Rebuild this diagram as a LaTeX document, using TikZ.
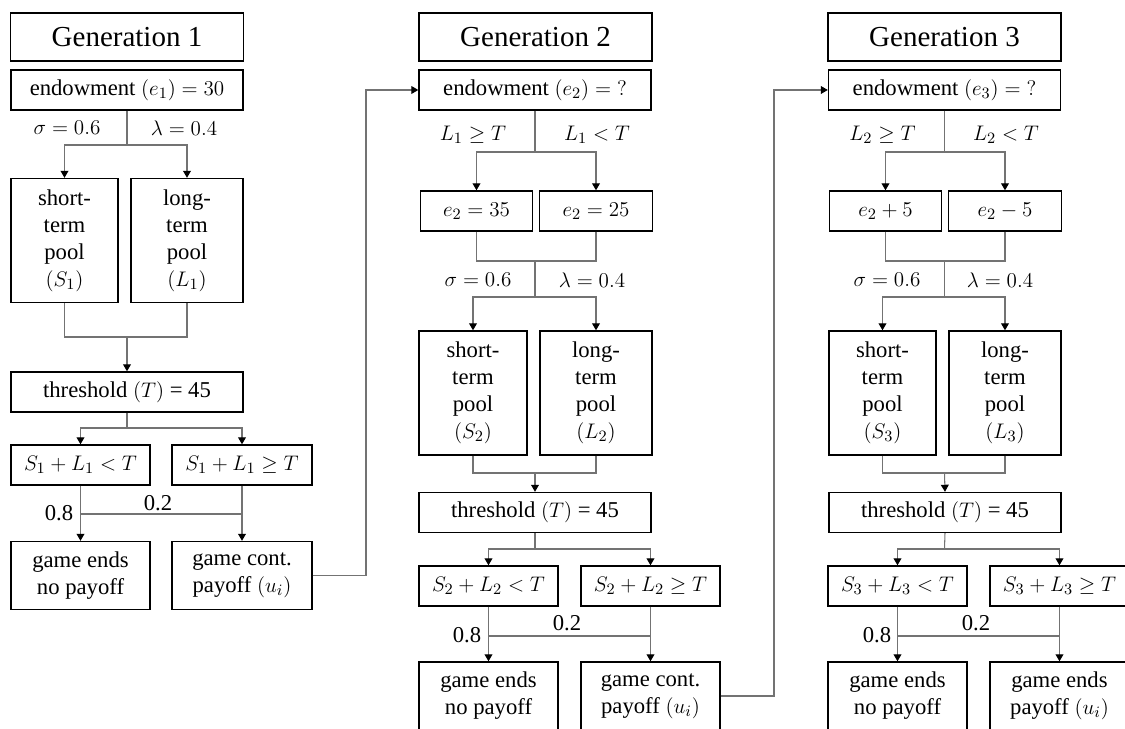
\documentclass[tikz,border=0pt]{standalone}
\usepackage{fontspec}
\newfontfamily\timesfont{Liberation Serif}
\usepackage{tikz}
\usetikzlibrary{arrows.meta}
\newcommand\bodyfont{\timesfont\fontsize{12.9pt}{15.4pt}\selectfont}
\newcommand\genfont{\timesfont\fontsize{16.5pt}{19pt}\selectfont}
\tikzset{
	box/.style={draw, line width=0.8pt, inner sep=0pt, align=center, font=\bodyfont},
	genbox/.style={box, minimum width=46.6mm, minimum height=9.6mm, font=\genfont},
	widebox/.style={box, minimum width=46.4mm, minimum height=8mm},
	ebox/.style={box, minimum width=22.5mm, minimum height=8mm},
	poolbox/.style={box, minimum width=22.4mm, minimum height=24.8mm},
	condbox/.style={box, minimum width=27.8mm, minimum height=8mm},
	endbox/.style={box, minimum width=27.8mm, minimum height=13.6mm},
	link/.style={draw=black!55, line width=0.6pt},
	conn/.style={link, -{Triangle[length=4pt,width=4.5pt,color=black]}},
	lab/.style={inner sep=0pt, font=\bodyfont}
}
\begin{document}
\begin{tikzpicture}[x=0.2mm, y=-0.2mm]
		%%%%% START %%%%%
		\useasboundingbox (0, 0) rectangle (1125, 729);
		
		%% generation 1
		\node[genbox] (gen1) at (127, 37) {Generation 1};
		\node[widebox] (end1) at (127, 90) {endowment $(e_1) = 30$};
		\node[poolbox, minimum width=21.4mm] (short1) at (64.5, 240.5) {short-\\term\\pool\\$(S_1)$};
		\node[poolbox] (long1) at (187, 240.5) {long-\\term\\pool\\$(L_1)$};
		\node[widebox] (thr1) at (127, 392) {threshold $(T)$ = 45};
		\node[condbox] (lt1) at (80.5, 465) {$S_1 + L_1 < T$};
		\node[condbox, minimum width=28mm] (ge1) at (242, 465) {$S_1 + L_1 \geq T$};
		\node[endbox] (ends1) at (80.5, 575.5) {game ends\\no payoff};
		\node[endbox, minimum width=28mm] (cont1) at (242, 575.5) {game cont.\\payoff $(u_i)$};
		
		\coordinate (sp1) at (127, 145);
		\coordinate (mg1) at (127, 337);
		\coordinate (sp1b) at (127, 428);
		\coordinate (pr1) at (80.5, 514);
		\coordinate (jump1) at (366, 300);
		
		\node[lab] (sig1) at (67, 128) {$\sigma = 0.6$};
		\node[lab] (lam1) at (184, 128) {$\lambda = 0.4$};
		\node[lab] (p81) at (59, 513) {0.8};
		\node[lab] (p21) at (158, 503) {0.2};
		
		\draw[link] (end1.south) -- (sp1);
		\draw[conn] (sp1) -| (short1.north);
		\draw[conn] (sp1) -| (long1.north);
		\draw[link] (short1.south) |- (mg1);
		\draw[link] (long1.south) |- (mg1);
		\draw[conn] (mg1) -- (thr1.north);
		\draw[link] (thr1.south) -- (sp1b);
		\draw[conn] (sp1b) -| (lt1.north);
		\draw[conn] (sp1b) -| (ge1.north);
		\draw[conn] (lt1.south) -- (ends1.north);
		\draw[conn] (ge1.south) -- (cont1.north);
		\draw[link] (pr1) -- (pr1 -| ge1.south);
		
		%% generation 2
		\node[genbox] (gen2) at (535.5, 37) {Generation 2};
		\node[widebox] (end2) at (535, 90) {endowment $(e_2) = {?}$};
		\node[ebox] (e35) at (476.5, 211) {$e_2 = 35$};
		\node[ebox] (e25) at (596, 211) {$e_2 = 25$};
		\node[poolbox, minimum width=21.6mm] (short2) at (473, 393) {short-\\term\\pool\\$(S_2)$};
		\node[poolbox] (long2) at (596, 393) {long-\\term\\pool\\$(L_2)$};
		\node[widebox] (thr2) at (535, 512.5) {threshold $(T)$ = 45};
		\node[condbox] (lt2) at (488.5, 586) {$S_2 + L_2 < T$};
		\node[condbox] (ge2) at (650.5, 586) {$S_2 + L_2 \geq T$};
		\node[endbox] (ends2) at (488.5, 696) {game ends\\no payoff};
		\node[endbox] (cont2) at (650.5, 696) {game cont.\\payoff $(u_i)$};
		
		\coordinate (sp2) at (535, 152);
		\coordinate (mg2) at (535, 261);
		\coordinate (sp2b) at (535, 297);
		\coordinate (mg2b) at (535, 473);
		\coordinate (sp2c) at (535, 549);
		\coordinate (pr2) at (488.5, 636);
		\coordinate (jump2) at (774, 400);
		
		\node[lab] (c21) at (473, 135) {$L_1 \geq T$};
		\node[lab] (c22) at (597, 135) {$L_1 < T$};
		\node[lab] (sig2) at (478, 280) {$\sigma = 0.6$};
		\node[lab] (lam2) at (592, 280) {$\lambda = 0.4$};
		\node[lab] (p82) at (467, 635) {0.8};
		\node[lab] (p22) at (567, 623) {0.2};
		
		\draw[conn] (cont1.east) -| (jump1) |- (end2.west);
		\draw[link] (end2.south) -- (sp2);
		\draw[conn] (sp2) -| (e35.north);
		\draw[conn] (sp2) -| (e25.north);
		\draw[link] (e35.south) |- (mg2);
		\draw[link] (e25.south) |- (mg2);
		\draw[link] (mg2) -- (sp2b);
		\draw[conn] (sp2b) -| (short2.north);
		\draw[conn] (sp2b) -| (long2.north);
		\draw[link] (short2.south) |- (mg2b);
		\draw[link] (long2.south) |- (mg2b);
		\draw[conn] (mg2b) -- (thr2.north);
		\draw[link] (thr2.south) -- (sp2c);
		\draw[conn] (sp2c) -| (lt2.north);
		\draw[conn] (sp2c) -| (ge2.north);
		\draw[conn] (lt2.south) -- (ends2.north);
		\draw[conn] (ge2.south) -- (cont2.north);
		\draw[link] (pr2) -- (pr2 -| ge2.south);
		
		%% generation 3
		\node[genbox] (gen3) at (944.5, 37) {Generation 3};
		\node[widebox] (end3) at (944.5, 90) {endowment $(e_3) = {?}$};
		\node[ebox] (e2p) at (885.5, 211) {$e_2 + 5$};
		\node[ebox] (e2m) at (1005, 211) {$e_2 - 5$};
		\node[poolbox, minimum width=21.4mm] (short3) at (882.5, 393) {short-\\term\\pool\\$(S_3)$};
		\node[poolbox] (long3) at (1005, 393) {long-\\term\\pool\\$(L_3)$};
		\node[widebox] (thr3) at (945, 512.5) {threshold $(T)$ = 45};
		\node[condbox] (lt3) at (897.5, 586) {$S_3 + L_3 < T$};
		\node[condbox] (ge3) at (1059.5, 586) {$S_3 + L_3 \geq T$};
		\node[endbox] (ends3) at (897.5, 696) {game ends\\no payoff};
		\node[endbox] (pay3) at (1059.5, 696) {game ends\\payoff $(u_i)$};
		
		\coordinate (sp3) at (944.5, 152);
		\coordinate (mg3) at (944.5, 261);
		\coordinate (sp3b) at (944.5, 297);
		\coordinate (mg3b) at (944.5, 473);
		\coordinate (sp3c) at (944.5, 549);
		\coordinate (pr3) at (897.5, 636);
		
		\node[lab] (c31) at (882.5, 135) {$L_2 \geq T$};
		\node[lab] (c32) at (1006, 135) {$L_2 < T$};
		\node[lab] (sig3) at (887, 280) {$\sigma = 0.6$};
		\node[lab] (lam3) at (1000, 280) {$\lambda = 0.4$};
		\node[lab] (p83) at (877, 635) {0.8};
		\node[lab] (p23) at (976, 623) {0.2};
		
		\draw[conn] (cont2.east) -| (jump2) |- (end3.west);
		\draw[link] (end3.south) -- (sp3);
		\draw[conn] (sp3) -| (e2p.north);
		\draw[conn] (sp3) -| (e2m.north);
		\draw[link] (e2p.south) |- (mg3);
		\draw[link] (e2m.south) |- (mg3);
		\draw[link] (mg3) -- (sp3b);
		\draw[conn] (sp3b) -| (short3.north);
		\draw[conn] (sp3b) -| (long3.north);
		\draw[link] (short3.south) |- (mg3b);
		\draw[link] (long3.south) |- (mg3b);
		\draw[conn] (mg3b) -- (thr3.north);
		\draw[link] (thr3.south) -- (sp3c);
		\draw[conn] (sp3c) -| (lt3.north);
		\draw[conn] (sp3c) -| (ge3.north);
		\draw[conn] (lt3.south) -- (ends3.north);
		\draw[conn] (ge3.south) -- (pay3.north);
		\draw[link] (pr3) -- (pr3 -| ge3.south);
		%%%%% END %%%%%
\end{tikzpicture}
\end{document}
